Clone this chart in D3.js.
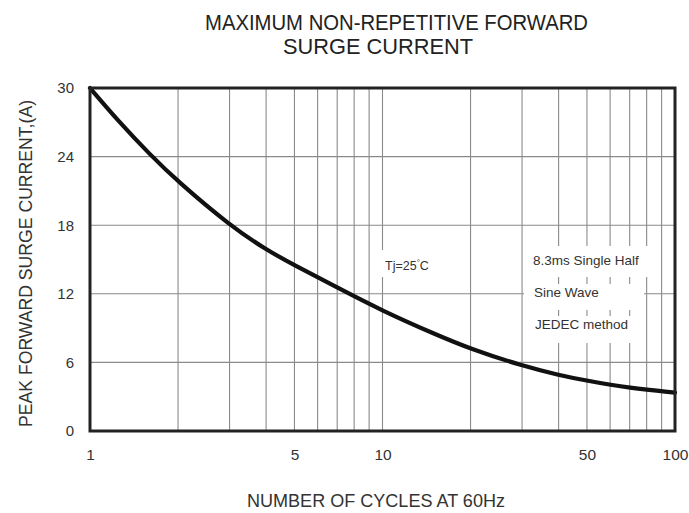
<!DOCTYPE html>
<html><head><meta charset="utf-8">
<script src="https://cdn.jsdelivr.net/npm/d3@7/dist/d3.min.js"></script>
<style>body{margin:0;background:#fff}svg{display:block;font-family:"Liberation Sans",Arial,sans-serif}</style>
</head><body>
<svg id="c" width="689" height="513"></svg>
<script>
const cycles  = [1, 1.25, 1.6, 2, 3, 4, 5, 7, 10, 15, 20, 30, 40, 50, 70, 100];
const current = [30, 27.1, 24.2, 21.8, 18.0, 15.85, 14.5, 12.55, 10.5, 8.5, 7.17, 5.7, 4.9, 4.39, 3.75, 3.36];
const yTicks = [0, 6, 12, 18, 24, 30];
const xTickLabels = [1, 5, 10, 50, 100];
const xGrid = [2,3,4,5,6,7,8,9,10,20,30,40,50,60,70,80,90];
const legendLines = ["8.3ms Single Half", "Sine Wave", "JEDEC method"];
const titleLines = ["MAXIMUM NON-REPETITIVE FORWARD", "SURGE CURRENT"];
const xTitle = "NUMBER OF CYCLES AT 60Hz";
const yTitle = "PEAK FORWARD SURGE CURRENT,(A)";

const svg = d3.select("#c");
const L = 90, R = 675, T = 88, B = 431;
const x = d3.scaleLog().domain([1,100]).range([L,R]);
const y = d3.scaleLinear().domain([0,30]).range([B,T]);

// grid
svg.append("g").selectAll("line").data(xGrid).join("line")
  .attr("x1", d=>x(d)).attr("x2", d=>x(d)).attr("y1", T).attr("y2", B)
  .attr("stroke", "#8a8a8a").attr("stroke-width", 1.1);
svg.append("g").selectAll("line").data(yTicks.slice(1,-1)).join("line")
  .attr("x1", L).attr("x2", R).attr("y1", d=>y(d)).attr("y2", d=>y(d))
  .attr("stroke", "#8a8a8a").attr("stroke-width", 1.1);

// legend masks + text
const masks = [[524,246,124,31],[524,284,120,26],[524,316,120,27]];
const legBase = [265, 297, 329];
const legX = [533, 534, 535];
const lg = svg.append("g");
masks.forEach(m=>lg.append("rect").attr("x",m[0]).attr("y",m[1]).attr("width",m[2]).attr("height",m[3]).attr("fill","#fff"));
legendLines.forEach((t,i)=>{
  lg.append("text").attr("x", legX[i]).attr("y", legBase[i]).attr("font-size", 13.5).attr("fill","#333").text(t);
});
svg.append("rect").attr("x", 378).attr("y", 250).attr("width", 62).attr("height", 27).attr("fill","#fff");
const tj = svg.append("text").attr("x", 385).attr("y", 269.5).attr("font-size", 12.5).attr("fill","#333");
tj.append("tspan").text("Tj=25");
tj.append("tspan").attr("font-size", 8).attr("dy", -5).text("°");
tj.append("tspan").attr("dy", 5).text("C");

// curve
svg.append("path").datum(cycles.map((c,i)=>[c,current[i]]))
  .attr("d", d3.line().x(d=>x(d[0])).y(d=>y(d[1])).curve(d3.curveBasis))
  .attr("fill","none").attr("stroke","#111").attr("stroke-width",4.2).attr("stroke-linecap","round");

// frame
svg.append("rect").attr("x",L).attr("y",T).attr("width",R-L).attr("height",B-T)
  .attr("fill","none").attr("stroke","#222").attr("stroke-width",3);

// axes labels
const yAxis = d3.axisLeft(y).tickValues(yTicks).tickSize(0).tickPadding(16);
const gy = svg.append("g").attr("transform",`translate(${L},0)`).call(yAxis);
gy.select(".domain").remove();
gy.selectAll("text").attr("font-size",15).attr("fill","#333").attr("font-family","Liberation Sans, Arial, sans-serif");

const xAxis = d3.axisBottom(x).tickValues(xTickLabels).tickFormat(d3.format("d")).tickSize(0).tickPadding(18);
const gx = svg.append("g").attr("transform",`translate(0,${B})`).call(xAxis);
gx.select(".domain").remove();
gx.selectAll("text").attr("font-size",15.5).attr("fill","#333").attr("font-family","Liberation Sans, Arial, sans-serif");

svg.append("text").attr("x",247).attr("y",507).attr("font-size",18).attr("fill","#333")
  .attr("textLength",258).attr("lengthAdjust","spacingAndGlyphs").text(xTitle);
svg.append("text").attr("transform","translate(32,427) rotate(-90)").attr("font-size",18).attr("fill","#333")
  .attr("textLength",327).attr("lengthAdjust","spacingAndGlyphs").text(yTitle);

svg.append("text").attr("x",205).attr("y",30).attr("font-size",21.5).attr("fill","#222")
  .attr("textLength",383).attr("lengthAdjust","spacingAndGlyphs").text(titleLines[0]);
svg.append("text").attr("x",283).attr("y",54).attr("font-size",21.5).attr("fill","#222")
  .attr("textLength",190).attr("lengthAdjust","spacingAndGlyphs").text(titleLines[1]);
</script>
</body></html>
